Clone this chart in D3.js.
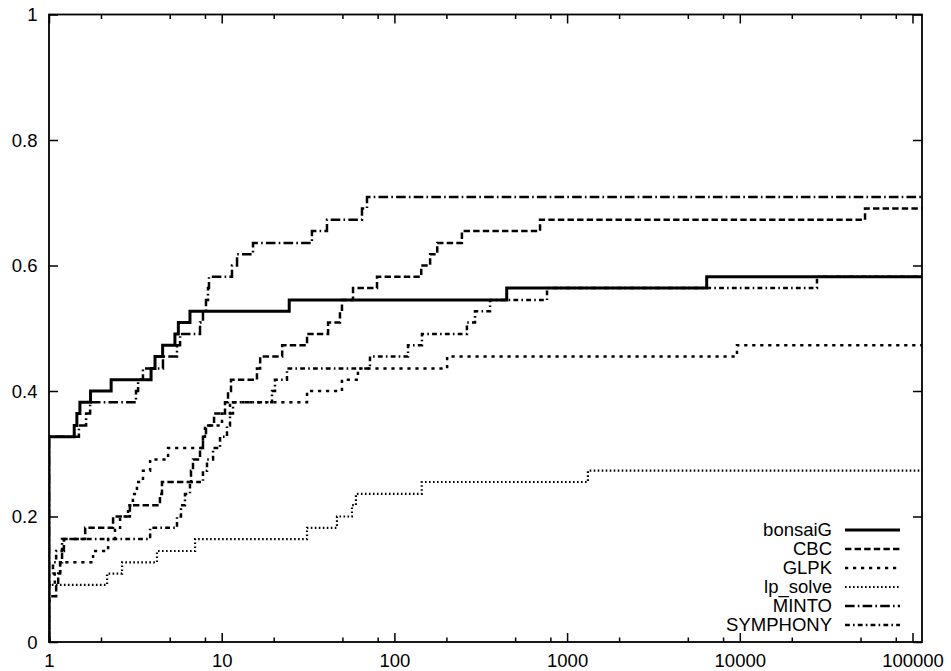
<!DOCTYPE html>
<html>
<head>
<meta charset="utf-8">
<script src="https://cdn.jsdelivr.net/npm/d3@7"></script>
<style>
  body { margin: 0; background: #fff; }
  svg text { font-family: "Liberation Sans", Arial, Helvetica, sans-serif; font-size: 18.5px; fill: #000; }
</style>
</head>
<body>
<div id="chart"></div>
<script>
// performance profile, 55 instances, log scale on tau

var seriesNames = ["bonsaiG", "CBC", "GLPK", "lp_solve", "MINTO", "SYMPHONY"];

var bonsaiGTau = [1, 1.40, 1.45, 1.51, 1.74, 2.29, 3.90, 4.11, 4.55, 5.36, 5.61, 6.55, 24.6, 447, 6430];
var bonsaiGVal = [0.327, 0.345, 0.364, 0.382, 0.4, 0.418, 0.436, 0.455, 0.473, 0.491, 0.509, 0.527, 0.545, 0.564, 0.582];

var cbcTau = [1, 1.10, 1.13, 1.16, 1.19, 1.22, 1.62, 2.35, 2.94, 4.39, 4.51, 6.64, 6.82, 7.49, 7.79, 8.11,
              9.03, 10.45, 10.88, 11.32, 16.0, 16.7, 22.4, 31.2, 41.3, 48.4, 49.7, 57.6, 79.3, 143, 161, 177, 246, 697, 53100];
var cbcVal = [0.073, 0.091, 0.109, 0.127, 0.145, 0.164, 0.182, 0.2, 0.218, 0.236, 0.255, 0.273, 0.291, 0.309, 0.327, 0.345,
              0.364, 0.382, 0.4, 0.418, 0.436, 0.455, 0.473, 0.491, 0.509, 0.527, 0.545, 0.564, 0.582, 0.6, 0.618, 0.636, 0.655, 0.673, 0.691];

var glpkTau = [1, 1.08, 1.16, 1.80, 2.20, 2.41, 2.58, 2.87, 3.06, 3.23, 3.50, 3.85, 4.89, 7.79, 8.00, 10.04, 11.17, 31.2, 49.7, 61.5, 202, 9630];
var glpkVal = [0.091, 0.109, 0.127, 0.145, 0.164, 0.182, 0.2, 0.218, 0.236, 0.255, 0.273, 0.291, 0.309, 0.327, 0.345, 0.364, 0.382, 0.4, 0.418, 0.436, 0.455, 0.473];

var lpsolveTau = [1, 2.17, 2.65, 4.22, 7.01, 31.2, 46.5, 56.8, 59.9, 144, 1320];
var lpsolveVal = [0.091, 0.109, 0.127, 0.145, 0.164, 0.182, 0.2, 0.218, 0.236, 0.255, 0.273];

var mintoTau = [1, 1.49, 1.64, 1.73, 3.19, 3.28, 3.50, 4.57, 5.51, 5.74, 7.49, 7.79, 8.11, 8.33, 8.44, 11.47, 12.27, 15.18, 33.3, 40.7, 64.9, 69.4];
var mintoVal = [0.327, 0.345, 0.364, 0.382, 0.4, 0.418, 0.436, 0.455, 0.473, 0.491, 0.509, 0.527, 0.545, 0.564, 0.582, 0.6, 0.618, 0.636, 0.655, 0.673, 0.691, 0.709];

var symphonyTau = [1, 1.055, 1.10, 1.19, 3.85, 5.51, 5.81, 6.13, 6.55, 7.79, 8.22, 8.91, 9.78, 10.73, 11.17, 11.63,
                   19.56, 20.35, 23.88, 72.2, 119.9, 144.4, 263, 293, 358, 765, 27990];
var symphonyVal = [0.109, 0.127, 0.145, 0.164, 0.182, 0.2, 0.218, 0.236, 0.255, 0.273, 0.291, 0.309, 0.327, 0.345, 0.364, 0.382,
                   0.4, 0.418, 0.436, 0.455, 0.473, 0.491, 0.509, 0.527, 0.545, 0.564, 0.582];

var xMajor = [1, 10, 100, 1000, 10000, 100000];
var xMinor = [2, 5, 8, 20, 50, 80, 200, 500, 800, 2000, 5000, 8000, 20000, 50000, 80000];
var yTicks = [0, 0.2, 0.4, 0.6, 0.8, 1];

var taus = [bonsaiGTau, cbcTau, glpkTau, lpsolveTau, mintoTau, symphonyTau];
var vals = [bonsaiGVal, cbcVal, glpkVal, lpsolveVal, mintoVal, symphonyVal];

// gnuplot-ish line types
var u = 1.6;
var styles = {
  "bonsaiG":  {w: 3,   dash: null},
  "CBC":      {w: 2.5, dash: [4*u, 2*u]},
  "GLPK":     {w: 2.5, dash: [2*u, 3*u]},
  "lp_solve": {w: 2.2, dash: [1*u, 1.5*u]},
  "MINTO":    {w: 2.5, dash: [6*u, 2*u, 1*u, 2*u]},
  "SYMPHONY": {w: 2.5, dash: [3*u, 2*u, 1*u, 2*u]}
};

var width = 951, height = 671;
var margin = {top: 14.5, right: 29, bottom: 29, left: 49};
var xMax = 113500;

var svg = d3.select("#chart").append("svg")
    .attr("width", width)
    .attr("height", height);

var x = d3.scaleLog().domain([1, xMax]).range([margin.left, width - margin.right]);
var y = d3.scaleLinear().domain([0, 1]).range([height - margin.bottom, margin.top]);

svg.append("defs").append("clipPath").attr("id", "plotClip")
  .append("rect")
    .attr("x", margin.left).attr("y", margin.top)
    .attr("width", x.range()[1] - x.range()[0])
    .attr("height", y.range()[0] - y.range()[1]);

// axes: ticks point inward and are mirrored on top/right
function styleAxis(g) {
  g.select(".domain").remove();
  g.selectAll(".tick line").attr("stroke", "#000").attr("stroke-width", 1.5);
  g.selectAll("text").attr("fill", "#000").style("font-size", "18.5px");
}

svg.append("g")
    .attr("transform", "translate(0," + y(0) + ")")
    .call(d3.axisBottom(x).tickValues(xMajor).tickSize(-9).tickPadding(12).tickFormat(d3.format("d")))
    .call(styleAxis);
svg.append("g")
    .attr("transform", "translate(0," + y(0) + ")")
    .call(d3.axisBottom(x).tickValues(xMinor).tickSize(-4.5).tickFormat(""))
    .call(styleAxis);
svg.append("g")
    .attr("transform", "translate(0," + y(1) + ")")
    .call(d3.axisTop(x).tickValues(xMajor).tickSize(-9).tickFormat(""))
    .call(styleAxis);
svg.append("g")
    .attr("transform", "translate(0," + y(1) + ")")
    .call(d3.axisTop(x).tickValues(xMinor).tickSize(-4.5).tickFormat(""))
    .call(styleAxis);

svg.append("g")
    .attr("transform", "translate(" + x(1) + ",0)")
    .call(d3.axisLeft(y).tickValues(yTicks).tickSize(-9).tickPadding(11.5).tickFormat(d3.format("")))
    .call(styleAxis)
    .selectAll("text").attr("dy", "0.34em");
svg.append("g")
    .attr("transform", "translate(" + x(xMax) + ",0)")
    .call(d3.axisRight(y).tickValues(yTicks).tickSize(-9).tickFormat(""))
    .call(styleAxis);

// step curves
var line = d3.line()
    .x(function(d) { return x(d.t); })
    .y(function(d) { return y(d.v); })
    .curve(d3.curveStepAfter);

var plot = svg.append("g").attr("clip-path", "url(#plotClip)");

seriesNames.forEach(function(name, i) {
  var pts = taus[i].map(function(t, j) { return {t: t, v: vals[i][j]}; });
  pts.unshift({t: 1, v: 0});
  pts.push({t: xMax, v: vals[i][vals[i].length - 1]});
  var s = styles[name];
  plot.append("path")
      .datum(pts)
      .attr("fill", "none")
      .attr("stroke", "#000")
      .attr("stroke-width", s.w)
      .attr("stroke-dasharray", s.dash ? s.dash.join(",") : null)
      .attr("d", line);
});

// frame
svg.append("rect")
    .attr("x", x(1)).attr("y", y(1))
    .attr("width", x(xMax) - x(1))
    .attr("height", y(0) - y(1))
    .attr("fill", "none")
    .attr("stroke", "#000")
    .attr("stroke-width", 1.8);

// key, bottom right
var legend = svg.append("g").attr("class", "legend");
var key = legend.selectAll("g").data(seriesNames).enter().append("g")
    .attr("transform", function(d, i) { return "translate(0," + (530 + i * 19) + ")"; });

key.append("text")
    .attr("x", 832)
    .attr("dy", "0.35em")
    .attr("text-anchor", "end")
    .text(function(d) { return d; });

key.append("line")
    .attr("x1", 845).attr("x2", 900)
    .attr("stroke", "#000")
    .attr("stroke-width", function(d) { return styles[d].w; })
    .attr("stroke-dasharray", function(d) { return styles[d].dash ? styles[d].dash.join(",") : null; });
</script>
</body>
</html>
